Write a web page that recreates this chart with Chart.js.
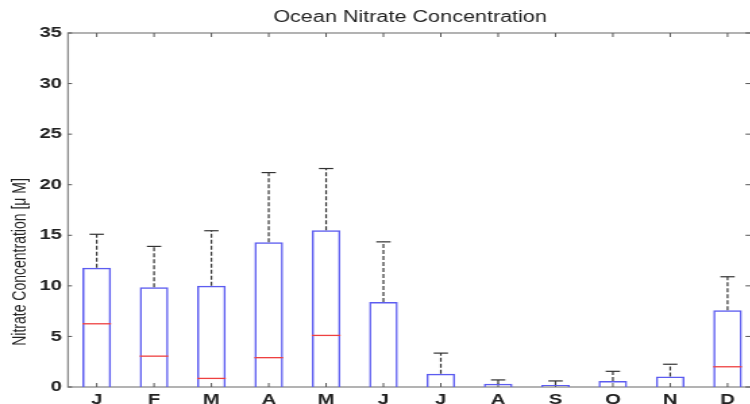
<!DOCTYPE html>
<html>
<head>
<meta charset="utf-8">
<script src="https://cdn.jsdelivr.net/npm/chart.js@4"></script>
<style>
  html, body { margin: 0; padding: 0; background: #fff; }
  /* the source image is stretched sideways, so the chart is drawn narrow and widened */
  #clip { width: 750px; height: 404px; overflow: hidden; }
  #wrap { width: 560px; height: 404px; transform: scaleX(1.35); transform-origin: 0 0; }
</style>
</head>
<body>
<div id="clip"><div id="wrap"><canvas id="chart"></canvas></div></div>
<script>
// Monthly nitrate box plot (lower quartile is zero for every month)
const months = ['J', 'F', 'M', 'A', 'M', 'J', 'J', 'A', 'S', 'O', 'N', 'D'];
const lowerQuartile = [0, 0, 0, 0, 0, 0, 0, 0, 0, 0, 0, 0];
const upperQuartile = [11.8, 9.85, 10.0, 14.3, 15.5, 8.4, 1.3, 0.33, 0.2, 0.6, 1.05, 7.6];
const medians = [6.25, 3.05, 0.85, 2.9, 5.1, null, null, null, null, null, null, 2.0];
const upperWhisker = [15.1, 13.9, 15.45, 21.2, 21.6, 14.35, 3.35, 0.7, 0.6, 1.55, 2.25, 10.9];
const yTicks = { min: 0, max: 35, step: 5 };

const titleText = 'Ocean Nitrate Concentration';
const yTitleText = 'Nitrate Concentration [\u03bc M]';

Chart.defaults.font.family = '"Liberation Sans", Arial, sans-serif';
Chart.defaults.color = '#222';

// MATLAB-style box with inward ticks on all four sides
const framePlugin = {
    id: 'frame',
    beforeDatasetsDraw(chart) {
        const { ctx, chartArea: a, scales: { x, y } } = chart;
        ctx.save();
        ctx.strokeStyle = '#8a8a8a';
        ctx.lineWidth = 1.3;
        ctx.strokeRect(a.left, a.top, a.right - a.left, a.bottom - a.top);
        ctx.strokeStyle = '#555';
        ctx.lineWidth = 1;
        ctx.beginPath();
        x.ticks.forEach(t => {
            const px = x.getPixelForValue(t.value);
            ctx.moveTo(px, a.bottom); ctx.lineTo(px, a.bottom - 4);
            ctx.moveTo(px, a.top); ctx.lineTo(px, a.top + 4);
        });
        y.ticks.forEach(t => {
            const py = y.getPixelForValue(t.value);
            ctx.moveTo(a.left, py); ctx.lineTo(a.left + 3, py);
            ctx.moveTo(a.right, py); ctx.lineTo(a.right - 5, py);
        });
        ctx.stroke();
        ctx.restore();
    }
};

// medians and upper whiskers on top of the boxes
const boxPlugin = {
    id: 'boxParts',
    afterDatasetsDraw(chart) {
        const { ctx, scales: { x, y } } = chart;
        const bars = chart.getDatasetMeta(0).data;
        ctx.save();
        months.forEach((m, i) => {
            const cx = x.getPixelForValue(i + 1);
            const half = bars[i].width / 2;
            const top = y.getPixelForValue(upperQuartile[i]);
            const wy = y.getPixelForValue(upperWhisker[i]);

            ctx.strokeStyle = '#333';
            ctx.lineWidth = 1.2;
            ctx.setLineDash([4, 2]);
            ctx.beginPath();
            ctx.moveTo(cx, top);
            ctx.lineTo(cx, wy);
            ctx.stroke();
            ctx.setLineDash([]);
            ctx.beginPath();
            ctx.moveTo(cx - half / 2, wy);
            ctx.lineTo(cx + half / 2, wy);
            ctx.stroke();

            if (medians[i] != null) {
                const my = y.getPixelForValue(medians[i]);
                ctx.strokeStyle = '#ee4040';
                ctx.lineWidth = 1.3;
                ctx.beginPath();
                ctx.moveTo(cx - half, my);
                ctx.lineTo(cx + half, my);
                ctx.stroke();
            }
        });
        ctx.restore();
    }
};

// rotated y-axis title, sitting low like in the source
const yTitlePlugin = {
    id: 'yTitle',
    afterDraw(chart) {
        const { ctx, chartArea: a } = chart;
        ctx.save();
        ctx.translate(a.left - 35.5, a.bottom - 125);
        ctx.rotate(-Math.PI / 2);
        ctx.font = '14px "Liberation Sans", Arial, sans-serif';
        ctx.fillStyle = '#222';
        ctx.textAlign = 'center';
        ctx.textBaseline = 'middle';
        ctx.fillText(yTitleText, 0, 0);
        ctx.restore();
    }
};

new Chart(document.getElementById('chart'), {
    type: 'bar',
    data: {
        datasets: [{
            data: upperQuartile.map((q, i) => ({ x: i + 1, y: [lowerQuartile[i], q] })),
            backgroundColor: 'rgba(255,255,255,0)',
            borderColor: '#5c5cf0',
            borderWidth: 1.5,
            barPercentage: 0.5,
            categoryPercentage: 1
        }]
    },
    options: {
        responsive: true,
        maintainAspectRatio: false,
        animation: false,
        layout: { padding: { left: 0, right: 2.8, top: 0, bottom: 0 } },
        plugins: {
            legend: { display: false },
            tooltip: { enabled: false },
            title: {
                display: true,
                text: titleText,
                fullSize: false,
                font: { size: 16, weight: 'normal' },
                padding: { top: 8.2, bottom: 5.6 }
            }
        },
        scales: {
            x: {
                type: 'linear',
                min: 0.5,
                max: 12.43,
                offset: false,
                grid: { display: false, drawTicks: false },
                border: { display: false },
                afterBuildTicks: s => { s.ticks = months.map((m, i) => ({ value: i + 1 })); },
                afterFit: s => { s.height = 17; },
                ticks: {
                    autoSkip: false,
                    maxRotation: 0,
                    padding: 3.5,
                    font: { size: 15, weight: 'bold' },
                    callback: v => months[v - 1]
                }
            },
            y: {
                min: yTicks.min,
                max: yTicks.max,
                grid: { display: false, drawTicks: false },
                border: { display: false },
                afterFit: s => { s.width = 50.37; },
                ticks: {
                    stepSize: yTicks.step,
                    padding: 4.5,
                    font: { size: 15, weight: 'bold' }
                }
            }
        }
    },
    plugins: [framePlugin, boxPlugin, yTitlePlugin]
});
</script>
</body>
</html>
